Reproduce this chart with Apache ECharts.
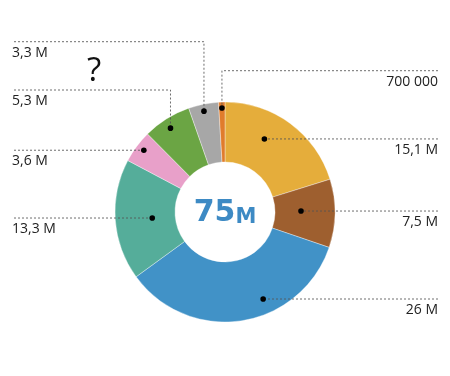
<!DOCTYPE html>
<html>
<head>
<meta charset="utf-8">
<script src="https://cdn.jsdelivr.net/npm/echarts@6/dist/echarts.min.js"></script>
<style>html,body{margin:0;padding:0;background:#fff}#c{width:450px;height:376px}</style>
</head>
<body>
<div id="c"></div>
<script>
// ---- data ----
const categories = ['A', 'B', 'C', 'D', 'E', 'F', 'G', 'H'];
const values = [15.1, 7.5, 26, 13.3, 3.6, 5.3, 3.3, 0.7];
const valueLabels = ['15,1 M', '7,5 M', '26 M', '13,3 M', '3,6 M', '5,3 M', '3,3 M', '700 000'];
const totalNumber = '75';
const totalUnit = 'M';
const questionMark = '?';

// ---- styling / layout ----
const colors = ['#e5ad3b', '#9e5f2f', '#4192c7', '#55ad9a', '#e8a0c9', '#6ba544', '#a7a7a7', '#e07c2c'];
const CX = 225, CY = 212, R_IN = 50, R_OUT = 110;
const dotFrac = [0.39, 0.46, 0.38, 0.49, 0.54, 0.46, 0.47, 0.5];
const dotRad = [83, 76, 95, 73, 102, 100, 103, 104];
const side = ['r', 'r', 'r', 'l', 'l', 'l', 'l', 'r'];
const lineY = [null, null, null, null, null, 90, 41.7, 70.7];
const LEFT_X = 14, RIGHT_X = 438;

const total = values.reduce((a, b) => a + b, 0);
function dotPos(i) {
  const start = values.slice(0, i).reduce((a, b) => a + b, 0) / total * 360;
  const th = (start + values[i] / total * 360 * dotFrac[i]) * Math.PI / 180;
  return [CX + dotRad[i] * Math.sin(th), CY - dotRad[i] * Math.cos(th)];
}

const chart = echarts.init(document.getElementById('c'), null, {renderer: 'canvas'});
const leaders = [];
values.forEach((v, i) => {
  const d = dotPos(i);
  const ly = lineY[i] == null ? d[1] : lineY[i];
  const ex = side[i] === 'r' ? RIGHT_X : LEFT_X;
  leaders.push({type: 'polyline', z: 99, silent: true,
    shape: {points: [[ex, ly], [d[0], ly], [d[0], d[1]]]},
    style: {stroke: '#555', lineWidth: 1, lineDash: [2, 2], fill: null, opacity: 0.85}});
  leaders.push({type: 'circle', z: 100, silent: true, shape: {cx: d[0], cy: d[1], r: 2.8}, style: {fill: '#000'}});
});

chart.setOption({
  animation: false,
  color: colors,
  graphic: [
    ...leaders,
    {type: 'text', z: 100, x: CX, y: CY + 1,
      style: {text: '{a|' + totalNumber + '}{b|' + totalUnit + '}', align: 'center', verticalAlign: 'middle',
        rich: {
          a: {fontFamily: 'DejaVu Sans', fontWeight: 'bold', fontSize: 30, fill: '#3d8ac4', verticalAlign: 'bottom'},
          b: {fontFamily: 'DejaVu Sans', fontWeight: 'bold', fontSize: 21, fill: '#3d8ac4', verticalAlign: 'bottom'}
        }}},
    {type: 'text', z: 100, x: 94, y: 72,
      style: {text: questionMark, align: 'center', verticalAlign: 'middle', fontFamily: 'Open Sans', fontSize: 33, fill: '#111'}}
  ],
  series: [{
    type: 'pie',
    center: [CX, CY],
    radius: [R_IN, R_OUT],
    startAngle: 90,
    clockwise: true,
    avoidLabelOverlap: false,
    itemStyle: {borderColor: 'rgba(255,255,255,0.6)', borderWidth: 0.6},
    label: {
      show: true, position: 'outside',
      formatter: p => valueLabels[p.dataIndex],
      fontFamily: 'Open Sans', fontSize: 14, color: '#222'
    },
    labelLine: {show: false},
    labelLayout: function (params) {
      const i = params.dataIndex;
      const d = dotPos(i);
      const ly = lineY[i] == null ? d[1] : lineY[i];
      const right = side[i] === 'r';
      return {
        x: right ? RIGHT_X : LEFT_X - 2,
        y: ly + 4,
        align: right ? 'right' : 'left',
        verticalAlign: 'top'
      };
    },
    emphasis: {disabled: true},
    data: categories.map((c, i) => ({name: c, value: values[i]}))
  }]
});
</script>
</body>
</html>
